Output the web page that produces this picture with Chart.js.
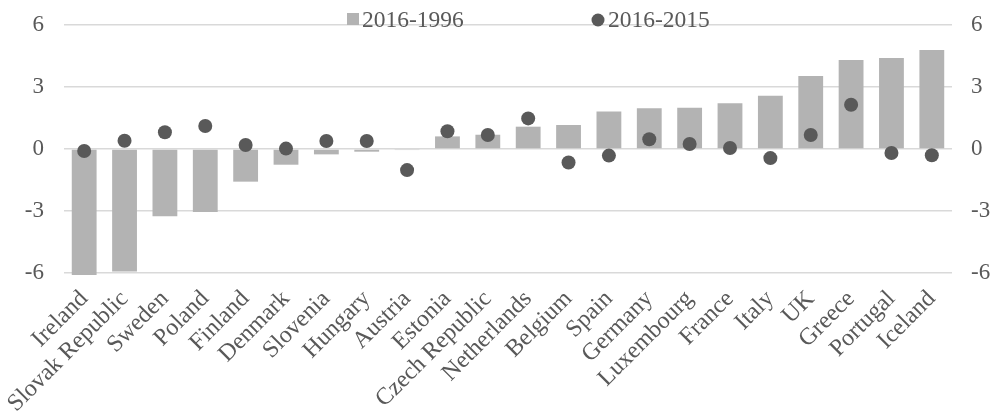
<!DOCTYPE html>
<html><head><meta charset="utf-8">
<script src="https://cdn.jsdelivr.net/npm/chart.js@4"></script>
<style>html,body{margin:0;padding:0;background:#fff}#wrap{width:993px;height:416px}</style>
</head><body><div id="wrap"><canvas id="c" width="993" height="416"></canvas></div>
<script>
const categories = ["Ireland","Slovak Republic","Sweden","Poland","Finland","Denmark","Slovenia","Hungary","Austria","Estonia","Czech Republic","Netherlands","Belgium","Spain","Germany","Luxembourg","France","Italy","UK","Greece","Portugal","Iceland"];
const change1996 = [-6.1,-5.93,-3.26,-3.05,-1.58,-0.76,-0.26,-0.13,-0.05,0.61,0.69,1.08,1.16,1.82,1.97,2.0,2.21,2.58,3.53,4.31,4.40,4.79];
const change2015 = [-0.1,0.40,0.81,1.11,0.19,0.02,0.39,0.39,-1.02,0.86,0.68,1.48,-0.65,-0.32,0.47,0.24,0.05,-0.44,0.68,2.14,-0.19,-0.30];
const seriesLabels = ["2016-1996","2016-2015"];
const yTicks = [-6,-3,0,3,6];

const FONT = "'Liberation Serif','Times New Roman',serif";
const TXT = "#595959";

const legendPlugin = {
  id: 'customLegend',
  afterDraw(chart){
    const ctx = chart.ctx;
    const ds = chart.data.datasets;
    ctx.save();
    ctx.font = "23.5px " + FONT;
    ctx.textBaseline = 'alphabetic';
    ctx.fillStyle = ds[0].backgroundColor;
    ctx.fillRect(347, 13, 12, 12);
    ctx.fillStyle = TXT;
    ctx.fillText(ds[0].label, 362, 27);
    ctx.fillStyle = ds[1].backgroundColor;
    ctx.beginPath(); ctx.arc(598, 20, 6.5, 0, Math.PI*2); ctx.fill();
    ctx.fillStyle = TXT;
    ctx.fillText(ds[1].label, 608, 27);
    ctx.restore();
  }
};

const tickFont = {family: FONT, size: 23};
function fixY(s, w){ s.width = w; s.paddingTop = 0; s.paddingBottom = 0; }
new Chart(document.getElementById('c'), {
  data: {
    labels: categories,
    datasets: [
      {type:'bar', label: seriesLabels[0], data: change1996, backgroundColor:'#b3b3b3', categoryPercentage:1, barPercentage:0.615, clip:false, order:2, yAxisID:'y'},
      {type:'line', label: seriesLabels[1], data: change2015, showLine:false, backgroundColor:'#595959', borderColor:'#595959', pointRadius:7, pointHoverRadius:7, pointBorderWidth:0, order:1, yAxisID:'y', clip:false}
    ]
  },
  options: {
    responsive:false, animation:false,
    layout:{padding:{top:25, left:0, right:0, bottom:0}},
    plugins:{legend:{display:false}, tooltip:{enabled:false}},
    scales:{
      x:{
        grid:{display:false, drawTicks:false}, border:{display:false},
        ticks:{color:TXT, font:{family: FONT, size: 24}, autoSkip:false, maxRotation:45, minRotation:45, padding:12},
        afterFit(s){ s.height = 143; s.paddingLeft = 0; s.paddingRight = 0; }
      },
      y:{
        position:'left', min:-6, max:6,
        afterBuildTicks(s){ s.ticks = yTicks.map(v=>({value:v})); },
        grid:{color:'#d9d9d9', lineWidth:1.5, drawTicks:false}, border:{display:false},
        ticks:{color:TXT, font:tickFont, padding:20},
        afterFit(s){ fixY(s, 64); }
      },
      y2:{
        position:'right', min:-6, max:6,
        afterBuildTicks(s){ s.ticks = yTicks.map(v=>({value:v})); },
        grid:{display:false, drawTicks:false}, border:{display:false},
        ticks:{color:TXT, font:tickFont, padding:19},
        afterFit(s){ fixY(s, 41); }
      }
    }
  },
  plugins:[legendPlugin]
});
</script></body></html>
